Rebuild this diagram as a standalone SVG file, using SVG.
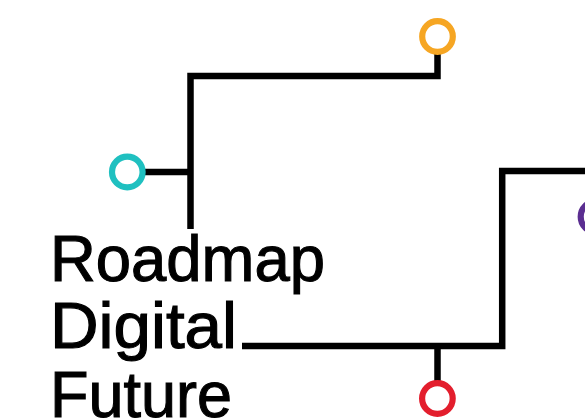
<svg xmlns="http://www.w3.org/2000/svg" width="585" height="418" viewBox="0 0 585 418">
<style>
.ln{fill:none;stroke:#000;stroke-width:6.5;stroke-linejoin:miter;stroke-linecap:butt}
.nd{fill:#fff;stroke-width:6.2}
.tt{font-family:"Liberation Sans",Arial,sans-serif;font-size:64px;fill:#000;stroke:#000;stroke-width:1.1}
</style>
<rect width="585" height="418" fill="#fff"/>
<g id="connectors">
<path class="ln" d="M190.5,229 V76 H437.5 V52"/>
<path class="ln" d="M145,172 H190"/>
<path class="ln" d="M242,346 H502.2 V171 H590"/>
<path class="ln" d="M437.5,346 V382"/>
</g>
<g id="node-orange"><circle class="nd" cx="437.5" cy="36.5" r="15.3" stroke="#F6A623"/></g>
<g id="node-teal"><circle class="nd" cx="127.3" cy="172" r="15.3" stroke="#1FC0C0"/></g>
<g id="node-purple"><circle class="nd" cx="596" cy="216.7" r="15.3" stroke="#5B2E91"/></g>
<g id="node-red"><circle class="nd" cx="437.4" cy="398.5" r="15.3" stroke="#E31E2D"/></g>
<g id="title">
<text class="tt" x="50" y="281" textLength="275" lengthAdjust="spacingAndGlyphs">Roadmap</text>
<text class="tt" x="50" y="348" textLength="187" lengthAdjust="spacingAndGlyphs">Digital</text>
<text class="tt" x="50" y="417" textLength="182" lengthAdjust="spacingAndGlyphs">Future</text>
</g>
</svg>
